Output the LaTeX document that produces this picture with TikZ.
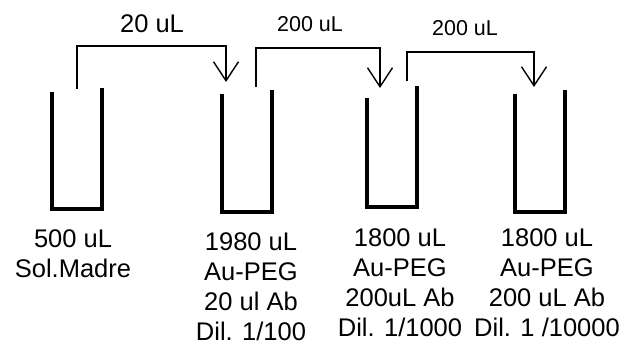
\documentclass[tikz,border=0pt]{standalone}
\usepackage{fontspec}
\setmainfont{Liberation Sans}
\usetikzlibrary{arrows.meta}
\begin{document}
\begin{tikzpicture}[x=1pt,y=-1pt,
  tube/.style={line width=3.6pt, line join=miter},
  flow/.style={line width=1.5pt, -{Straight Barb[length=19pt,width=25pt,line width=1.4pt]}},
  biglabel/.style={inner sep=0pt, font=\fontsize{25.5}{25.5}\selectfont},
  smalllabel/.style={inner sep=0pt, font=\fontsize{21.5}{21.5}\selectfont},
  tubetext/.style={inner sep=0pt, anchor=north, align=center,
    font=\fontsize{25.5}{30.2}\selectfont}]
\useasboundingbox (0,0) rectangle (629,345);

% the four test tubes (open at the top)
\draw[tube] (52,92) -- (52,209) -- (102,209) -- (102,88);
\draw[tube] (222,94) -- (222,212) -- (272,212) -- (272,90);
\draw[tube] (367,98) -- (367,207) -- (417,207) -- (417,86);
\draw[tube] (515,94) -- (515,212) -- (565,212) -- (565,90);

% transfer points between the tubes
\coordinate (s1) at (77,89);  \coordinate (k1) at (77,46);  \coordinate (e1) at (226,82);
\coordinate (s2) at (256,87); \coordinate (k2) at (256,48); \coordinate (e2) at (380,88);
\coordinate (s3) at (407,81); \coordinate (k3) at (407,52); \coordinate (e3) at (534,87);

\draw[flow] (s1) -- (k1) -| (e1);
\draw[flow] (s2) -- (k2) -| (e2);
\draw[flow] (s3) -- (k3) -| (e3);

% transferred volumes
\node[biglabel]   (v1) at (152,24)   {20 uL};
\node[smalllabel] (v2) at (310,24)   {200 uL};
\node[smalllabel] (v3) at (465,28.5) {200 uL};

% tube contents
\node[tubetext] (t1) at (73,229)  {500 uL\\Sol.Madre};
\node[tubetext] (t2) at (251,232) {1980 uL\\Au-PEG\\20 ul Ab\\Dil. 1/100};
\node[tubetext] (t3) at (400,228) {1800 uL\\Au-PEG\\200uL Ab\\Dil. 1/1000};
\node[tubetext] (t4) at (547,228) {1800 uL\\Au-PEG\\200 uL Ab\\Dil. 1 /10000};
\end{tikzpicture}
\end{document}
